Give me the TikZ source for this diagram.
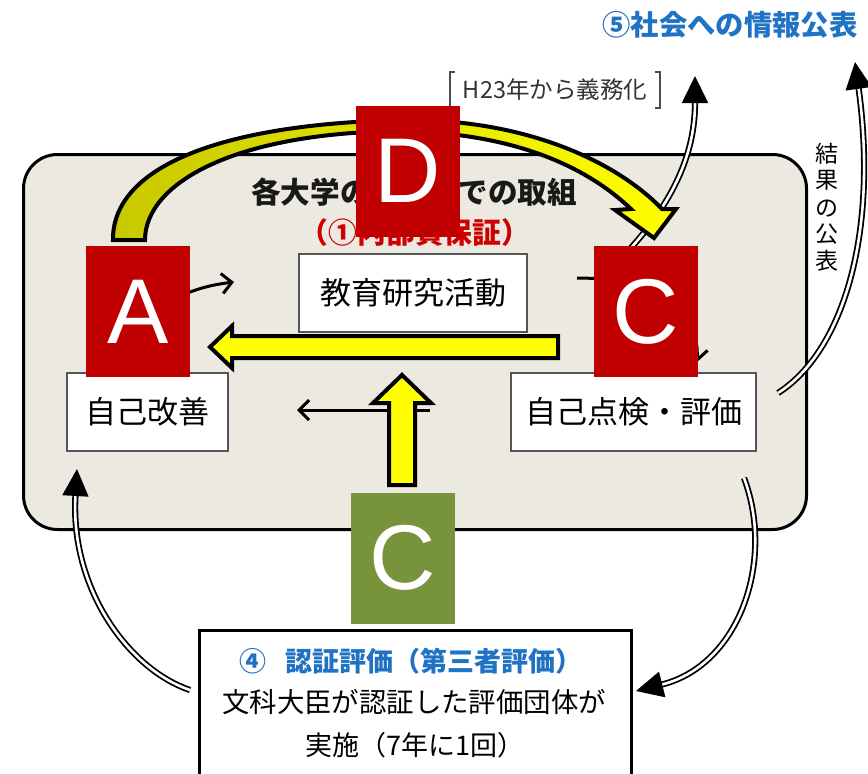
\documentclass[tikz,border=0pt]{standalone}
\usepackage{fontspec}
\setmainfont{Liberation Sans}
\newfontfamily\jp{Noto Sans CJK JP}
\usetikzlibrary{arrows.meta}
\definecolor{panel}{HTML}{ECE9E0}
\definecolor{lred}{HTML}{C00000}
\definecolor{lgreen}{HTML}{77933C}
\definecolor{tblue}{HTML}{1F72C4}
\definecolor{tred}{HTML}{D00000}
\definecolor{dolive}{HTML}{C8C800}
\definecolor{ylw}{HTML}{FFFF00}
\definecolor{bgray}{HTML}{555555}
\tikzset{
  wbox/.style={draw=bgray, line width=1.6, fill=white, inner sep=0},
  letterbox/.style={fill=lred, text=white, minimum width=104, minimum height=131, inner sep=0, font=\fontsize{92}{92}\selectfont},
  jtxt/.style={inner sep=0, font=\jp\fontsize{31}{37}\selectfont},
  thinarrow/.style={line width=3, -{Straight Barb[length=10pt,width=20pt,line width=3pt]}},
  dblarrow/.style={double=white, draw=black, line width=1.8, double distance=2.6, -{Triangle[length=27pt,width=26pt]}},
  yarrow/.style={draw=black, line width=4, fill=ylw, line join=miter},
}
\begin{document}
\begin{tikzpicture}[x=1pt,y=-1pt]
\useasboundingbox (0,0) rectangle (868,774);
\fill[white] (0,0) rectangle (868,774);

% main panel
\node[draw, line width=3, rounded corners=34, fill=panel, minimum width=783, minimum height=375, anchor=north west, inner sep=0] (panel) at (22,153) {};

% title
\node[inner sep=0, font=\jp\bfseries\fontsize{29.6}{34}\selectfont, text=black!90] (title) at (414,192) {各大学の組織内での取組};
\node[inner sep=0, font=\jp\bfseries\fontsize{28.8}{34}\selectfont, text=tred] (title2) at (415,233) {（①内部質保証）};

% boxes
\node[wbox, minimum width=228, minimum height=78, jtxt] (edu) at (413,293) {教育研究活動};
\node[wbox, minimum width=161, minimum height=78, jtxt] (kaizen) at (147.5,412) {自己改善};
\node[wbox, minimum width=245, minimum height=78, jtxt] (hyoka) at (633.5,412) {自己点検・評価};

% thin arrows
\coordinate (a1s) at (175,298);
\coordinate (a1e) at (234,282);
\draw[thinarrow] (a1s) to[bend left=8] (a1e);
\coordinate (a2s) at (577,278);
\coordinate (a2e) at (697,362);
\draw[thinarrow] (a2s) .. controls (650,278) and (700,305) .. (a2e);
\coordinate (a3s) at (430,410);
\coordinate (a3e) at (297,410);
\draw[thinarrow] (a3s) -- (a3e);

% double arrows
\coordinate (d1s) at (612,268);
\coordinate (d1e) at (695,76);
\draw[dblarrow] (d1s) .. controls (668,212) and (695,160) .. (d1e);
\coordinate (d2s) at (778,393);
\coordinate (d2e) at (855,62);
\draw[dblarrow] (d2s) .. controls (845,350) and (878,230) .. (d2e);

% top texts
\node[inner sep=0, font=\jp\bfseries\fontsize{28.3}{34}\selectfont, text=tblue] (pub) at (730,25) {⑤社会への情報公表};
\node[inner sep=0, font=\jp\fontsize{23.5}{28}\selectfont, text=black!80] (h23) at (555,90) {H23年から義務化};
\draw[black!70, line width=1.3] (455,72) -- (450,72) -- (450,108) -- (455,108);
\draw[black!70, line width=1.3] (655,72) -- (660,72) -- (660,108) -- (655,108);
\node[inner sep=0, font=\jp\fontsize{23}{27}\selectfont, align=center] (kekka) at (827,207) {結\\[-1pt]果\\[1pt]の\\[-1pt]公\\[0pt]表};

% bottom box
\node[draw, line width=3, fill=white, minimum width=432, minimum height=160, anchor=north west, inner sep=0] (nin) at (198,629) {};
\node[inner sep=0, font=\jp\bfseries\fontsize{27}{32}\selectfont, text=tblue] (nin1) at (411,661) {④\hspace{0.7em}認証評価（第三者評価）};
\node[inner sep=0, font=\jp\fontsize{27.4}{32}\selectfont] (nin2) at (414,702) {文科大臣が認証した評価団体が};
\node[inner sep=0, font=\jp\fontsize{27}{32}\selectfont] (nin3) at (415,745) {実施（7年に1回）};

\coordinate (d3s) at (190,690);
\coordinate (d3e) at (77,469);
\draw[dblarrow] (d3s) .. controls (130,670) and (70,590) .. (d3e);
\coordinate (d4s) at (744,478);
\coordinate (d4e) at (636,691);
\draw[dblarrow] (d4s) .. controls (775,560) and (740,665) .. (d4e);

% yellow arrows
\draw[yarrow] (558,336) -- (232,336) -- (232,326) -- (210,347) -- (232,368) -- (232,358) -- (558,358) -- cycle;
\draw[yarrow] (389,485) -- (389,403) -- (373,403) -- (402,375) -- (431,403) -- (415,403) -- (415,485) -- cycle;
\draw[line width=4, line join=miter, left color=dolive, right color=ylw]
  (113,240) .. controls (112,175) and (200,125) .. (400,120)
  .. controls (530,118) and (620,165) .. (662,209)
  -- (676,209) -- (654,238) -- (615,210) -- (631,209)
  .. controls (590,170) and (520,133) .. (400,131)
  .. controls (230,133) and (145,185) .. (145,240) -- cycle;

% letter boxes
\node[letterbox] (A) at (138,311.5) {A};
\node[letterbox] (D) at (408,171) {D};
\node[letterbox] (C) at (645.5,311.5) {C};
\node[letterbox, fill=lgreen] (C2) at (402.5,558) {C};
\end{tikzpicture}
\end{document}
